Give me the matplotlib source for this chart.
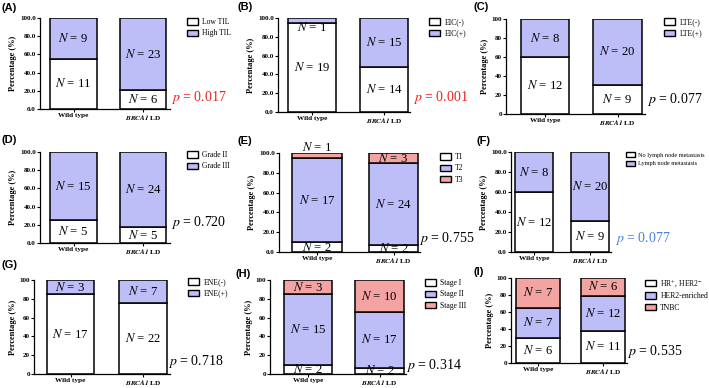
import numpy as np
import matplotlib.pyplot as plt
from matplotlib.patches import Patch

plt.rcParams['font.family'] = 'Liberation Serif'
plt.rcParams['mathtext.fontset'] = 'stix'

W, H = 709, 388

groups = ['Wild type', r'$\mathbfit{BRCA1}$ LD']

# counts, bottom segment first: (wild type, BRCA1 LD)
til_cats = ['Low TIL', 'High TIL']
til_wt = [11, 9]
til_brca = [6, 23]

eic_cats = ['EIC(-)', 'EIC(+)']
eic_wt = [19, 1]
eic_brca = [14, 15]

lte_cats = ['LTE(-)', 'LTE(+)']
lte_wt = [12, 8]
lte_brca = [9, 20]

grade_cats = ['Grade II', 'Grade III']
grade_wt = [5, 15]
grade_brca = [5, 24]

t_cats = ['T1', 'T2', 'T3']
t_wt = [2, 17, 1]
t_brca = [2, 24, 3]

ln_cats = ['No lymph node metastasis', 'Lymph node metastasis']
ln_wt = [12, 8]
ln_brca = [9, 20]

ene_cats = ['ENE(-)', 'ENE(+)']
ene_wt = [17, 3]
ene_brca = [22, 7]

stage_cats = ['Stage I', 'Stage II', 'Stage III']
stage_wt = [2, 15, 3]
stage_brca = [2, 17, 10]

sub_cats = [r'HR$^{+}$, HER2$^{-}$', 'HER2-enriched', 'TNBC']
sub_wt = [6, 7, 7]
sub_brca = [11, 12, 6]

p_values = ['0.017', '0.001', '0.077', '0.720', '0.755', '0.077', '0.718', '0.314', '0.535']
letters = ['(A)', '(B)', '(C)', '(D)', '(E)', '(F)', '(G)', '(H)', '(I)']

colors = ['white', '#BDBDF7', '#F4A3A3']

# pixel geometry: spine x, y0, y100, bar1 l/r, bar2 l/r, axis end
geoms = [
    (40, 109, 18, 50, 97, 120, 166, 170),
    (278, 112, 18, 288, 336, 360, 408, 410),
    (506, 114, 19, 521, 569, 593, 642, 645),
    (40, 243, 152, 50, 97, 120, 166, 170),
    (279, 252, 153, 292, 342, 369, 418, 420),
    (511, 252, 152, 515, 553, 571, 609, 611),
    (34, 374, 280, 47, 94, 119, 167, 170),
    (270, 374, 280, 284, 332, 355, 404, 406),
    (511, 363, 278, 516, 560, 581, 625, 627),
]
letter_pos = [(2, 8), (237, 7), (473, 7), (2, 140), (238, 141), (477, 141), (2, 265), (236, 274), (473, 272)]
legend_pos = [(187, 23), (429, 23), (664, 23), (187, 156), (440, 158), (626, 157), (188, 283), (425, 284), (645, 282)]
legend_size = [5.5, 5.5, 5.5, 5.5, 5.5, 4.5, 5.5, 5.5, 5.5]
p_pos = [(171, 98), (413, 98), (647, 100), (171, 223), (419, 238), (615, 238), (168, 361), (406, 366), (627, 352)]
p_colors = ['#F01E1E', '#F01E1E', 'black', 'black', 'black', '#4A80D8', 'black', 'black', 'black']
decimal_ticks = [True, True, False, True, True, True, False, False, False]
# extra vertical shift (in %) for a few crowded N labels
nudges = {(1, 0, 1): -8, (4, 0, 2): 8}

panels = [
    (til_cats, til_wt, til_brca),
    (eic_cats, eic_wt, eic_brca),
    (lte_cats, lte_wt, lte_brca),
    (grade_cats, grade_wt, grade_brca),
    (t_cats, t_wt, t_brca),
    (ln_cats, ln_wt, ln_brca),
    (ene_cats, ene_wt, ene_brca),
    (stage_cats, stage_wt, stage_brca),
    (sub_cats, sub_wt, sub_brca),
]

fig = plt.figure(figsize=(W / 100, H / 100), dpi=100)

for i, (cats, wt, brca) in enumerate(panels):
    sx, y0, y100, l1, r1, l2, r2, xe = geoms[i]
    c1, c2 = (l1 + r1) / 2, (l2 + r2) / 2
    unit = c2 - c1
    width = ((r1 - l1) + (r2 - l2)) / 2 / unit
    ax = fig.add_axes([sx / W, 1 - y0 / H, (xe - sx) / W, (y0 - y100) / H])
    ax.patch.set_alpha(0)
    ax.set_xlim((sx - c1) / unit, 1 + (xe - c2) / unit)
    ax.set_ylim(0, 100)

    for g, counts in enumerate([wt, brca]):
        counts = np.array(counts)
        pct = counts / counts.sum() * 100
        bottom = 0
        for k in range(len(counts)):
            ax.bar(g, pct[k], width=width, bottom=bottom, color=colors[k],
                   edgecolor='black', linewidth=1.1, zorder=2)
            yl = bottom + pct[k] / 2 + nudges.get((i, g, k), 0)
            ax.text(g, yl, r'$N$ = %d' % counts[k], ha='center', va='center',
                    fontsize=9.2, zorder=3, clip_on=False)
            bottom += pct[k]

    for s in ['top', 'right']:
        ax.spines[s].set_visible(False)
    for s in ['left', 'bottom']:
        ax.spines[s].set_linewidth(0.9)
    yt = np.arange(0, 101, 20)
    if decimal_ticks[i]:
        ylabels = ['%.1f' % v for v in yt]
    else:
        ylabels = ['%d' % v for v in yt]
    ax.set_yticks(yt, labels=ylabels, fontsize=5, fontweight='bold')
    ax.set_xticks([0, 1], labels=groups, fontsize=5.2, fontweight='bold')
    ax.tick_params(axis='both', direction='out', length=2, width=0.8, pad=1)
    ax.set_ylabel('Percentage (%)', fontsize=6, fontweight='bold', labelpad=2)

    handles = [Patch(facecolor=colors[k], edgecolor='black', linewidth=1.0) for k in range(len(cats))]
    lx, ly = legend_pos[i]
    fig.legend(handles, cats, loc='upper left', bbox_to_anchor=(lx / W, 1 - (ly - 5) / H),
               frameon=False, fontsize=legend_size[i], handlelength=1.4, handleheight=0.9,
               handletextpad=0.6, labelspacing=0.45, borderpad=0, borderaxespad=0)

    px, py = p_pos[i]
    fig.text(px / W, 1 - py / H, r'$p$ = ' + p_values[i], fontsize=10,
             color=p_colors[i], ha='left', va='center')

    tx, ty = letter_pos[i]
    fig.text(tx / W, 1 - ty / H, letters[i], fontsize=8, fontweight='bold',
             family='Liberation Sans', ha='left', va='center')

fig.savefig('out.png', dpi=100)
